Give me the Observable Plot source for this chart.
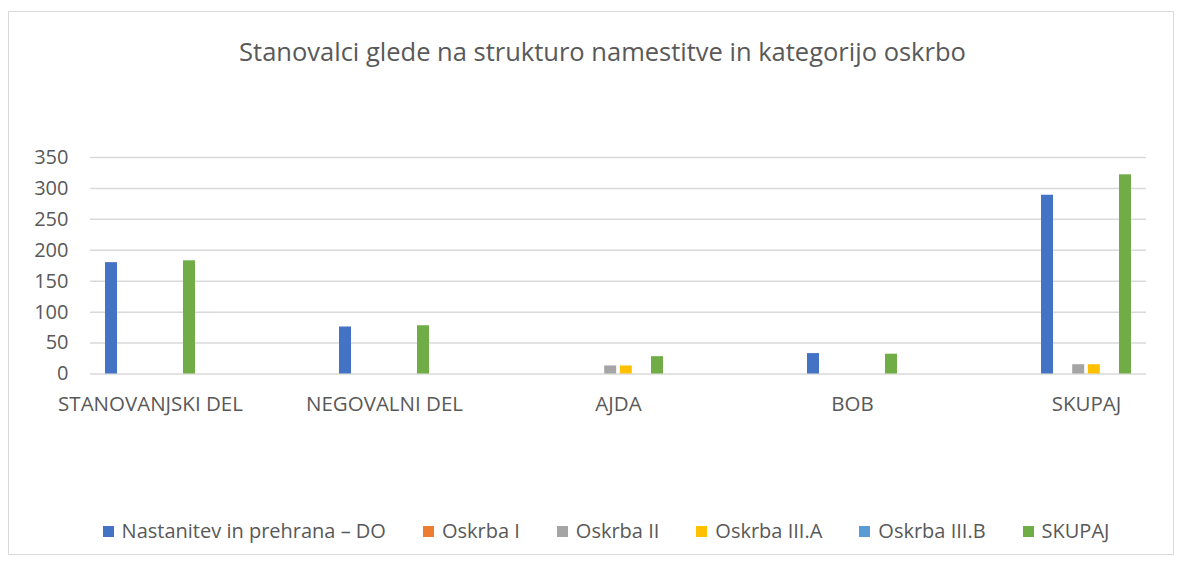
<!DOCTYPE html>
<html>
<head>
<meta charset="utf-8">
<script src="https://cdn.jsdelivr.net/npm/d3@7"></script>
<script src="https://cdn.jsdelivr.net/npm/@observablehq/plot@0.6"></script>
<style>
  html, body { margin: 0; padding: 0; background: #fff; }
  body { width: 1184px; height: 565px; position: relative; overflow: hidden; font-family: "Open Sans", sans-serif; color: #595959; }
  #frame { position: absolute; left: 8px; top: 11px; width: 1166px; height: 544px; border: 1px solid #D9D9D9; box-sizing: border-box; }
  #title { position: absolute; left: 8px; top: 34px; width: 1166px; padding-left: 23px; box-sizing: border-box; text-align: center; font-size: 25.5px; line-height: 34px; }
  #chart { position: absolute; left: 0; top: 0; }
  #legend { position: absolute; left: 0; top: 516px; width: 1184px; padding-left: 28px; box-sizing: border-box; display: flex; justify-content: center; gap: 37px; font-size: 20px; line-height: 30px; }
  .item { display: flex; align-items: center; gap: 8px; white-space: nowrap; }
  .sw { width: 11px; height: 11px; display: inline-block; }
</style>
</head>
<body>
<div id="frame"></div>
<div id="title">Stanovalci glede na strukturo namestitve in kategorijo oskrbo</div>
<div id="chart"></div>
<div id="legend"></div>
<script>
const categories = ["STANOVANJSKI DEL", "NEGOVALNI DEL", "AJDA", "BOB", "SKUPAJ"];
const seriesNames = ["Nastanitev in prehrana – DO", "Oskrba I", "Oskrba II", "Oskrba III.A", "Oskrba III.B", "SKUPAJ"];
const nastanitev = [180, 76, 0, 33, 289];
const oskrbaI = [0, 0, 0, 0, 0];
const oskrbaII = [0, 0, 13, 0, 15];
const oskrbaIIIA = [0, 0, 13, 0, 15];
const oskrbaIIIB = [0, 0, 0, 0, 0];
const skupaj = [183, 78, 28, 32, 322];
const colors = ["#4472C4", "#ED7D31", "#A5A5A5", "#FFC000", "#5B9BD5", "#70AD47"];
const yTicks = [0, 50, 100, 150, 200, 250, 300, 350];

const seriesValues = [nastanitev, oskrbaI, oskrbaII, oskrbaIIIA, oskrbaIIIB, skupaj];

const step = 15.6, barW = 12.5, band = 234.5;
const barMarks = seriesValues.map((vals, i) => {
  const data = categories.map((c, j) => ({category: c, value: vals[j]}));
  return Plot.barY(data, {
    x: "category", y: "value", fill: colors[i],
    dx: (i - 2.5) * step,
    insetLeft: (band - barW) / 2, insetRight: (band - barW) / 2
  });
});

const chart = Plot.plot({
  width: 1184,
  height: 420,
  marginLeft: 90,
  marginRight: 38,
  marginTop: 157,
  marginBottom: 46.5,
  style: {fontFamily: "'Open Sans', sans-serif", color: "#595959", background: "transparent"},
  x: {domain: categories, range: [149 - band / 2, 149 + 4.5 * band], padding: 0},
  y: {domain: [0, 350]},
  marks: [
    Plot.gridY(yTicks, {stroke: "#D9D9D9", strokeOpacity: 1, strokeWidth: 1.5}),
    ...barMarks,
    Plot.axisY(yTicks, {tickSize: 0, tickPadding: 22, fontSize: 20, label: null, fill: "#595959"}),
    Plot.axisX({tickSize: 0, tickPadding: 22, fontSize: 20.5, label: null, fill: "#595959"})
  ]
});
document.getElementById("chart").appendChild(chart);

const legend = document.getElementById("legend");
seriesNames.forEach((name, i) => {
  const item = document.createElement("div");
  item.className = "item";
  const sw = document.createElement("span");
  sw.className = "sw";
  sw.style.background = colors[i];
  const t = document.createElement("span");
  t.textContent = name;
  item.appendChild(sw);
  item.appendChild(t);
  legend.appendChild(item);
});
</script>
</body>
</html>
